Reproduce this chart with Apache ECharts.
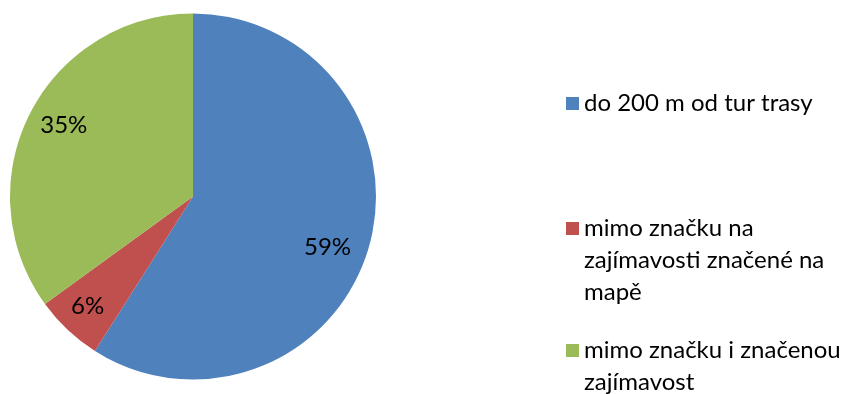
<!DOCTYPE html>
<html>
<head>
<meta charset="utf-8">
<script src="https://cdn.jsdelivr.net/npm/echarts@6/dist/echarts.min.js"></script>
<style>
  html, body { margin: 0; padding: 0; background: #fff; }
  #chart { width: 857px; height: 394px; }
</style>
</head>
<body>
<div id="chart"></div>
<script>
// Share of locations by distance from the marked trail
const categories = [
  'do 200 m od tur trasy',
  'mimo značku na\nzajímavosti značené na\nmapě',
  'mimo značku i značenou\nzajímavost'
];
const values = [59, 6, 35];
const colors = ['#4F81BD', '#C0504D', '#9BBB59'];

const FONT = 'Lato, "Open Sans", sans-serif';
const FONT_SIZE = 24;
const LINE = 32;
const ICON = 13;

// Nudges that move each percentage label within its slice
const labelOffsets = [[-9, 9], [-3, 1], [4, -3]];

const pieData = categories.map((name, i) => ({
  name: name,
  value: values[i],
  itemStyle: { color: colors[i] }
}));

// One legend per entry. Wrapped names get blank lines in front so the
// square stays level with their first line.
const legendIconTops = [97, 222, 344];
const legends = categories.map((name, i) => {
  const lines = name.split('\n').length;
  const blockLines = 2 * lines - 1;
  const boxTop = ICON / 2 - blockLines * LINE / 2;
  return {
    orient: 'vertical',
    left: 566,
    top: legendIconTops[i] + Math.min(0, boxTop),
    padding: 0,
    itemWidth: ICON,
    itemHeight: ICON,
    itemGap: 0,
    icon: 'rect',
    selectedMode: false,
    data: [name],
    formatter: n => '\n'.repeat(lines - 1) + n,
    textStyle: {
      fontFamily: FONT,
      fontSize: FONT_SIZE,
      lineHeight: LINE,
      color: '#000'
    }
  };
});

const chart = echarts.init(document.getElementById('chart'), null, { renderer: 'canvas' });
chart.setOption({
  backgroundColor: '#fff',
  animation: false,
  legend: legends,
  series: [
    {
      type: 'pie',
      center: [193, 196.5],
      radius: 183,
      startAngle: 90,
      clockwise: true,
      silent: true,
      label: { show: false },
      labelLine: { show: false },
      itemStyle: { borderWidth: 0 },
      data: pieData
    },
    {
      // transparent ring that carries the percentage labels
      type: 'pie',
      center: [193, 196.5],
      radius: [110, 183],
      startAngle: 90,
      clockwise: true,
      silent: true,
      legendHoverLink: false,
      itemStyle: { color: 'rgba(0,0,0,0)', borderWidth: 0 },
      label: {
        show: true,
        position: 'inside',
        formatter: '{c}%',
        fontFamily: FONT,
        fontSize: FONT_SIZE,
        color: '#000'
      },
      labelLine: { show: false },
      data: categories.map((name, i) => ({
        name: name,
        value: values[i],
        label: { offset: labelOffsets[i] }
      }))
    }
  ]
});
</script>
</body>
</html>
